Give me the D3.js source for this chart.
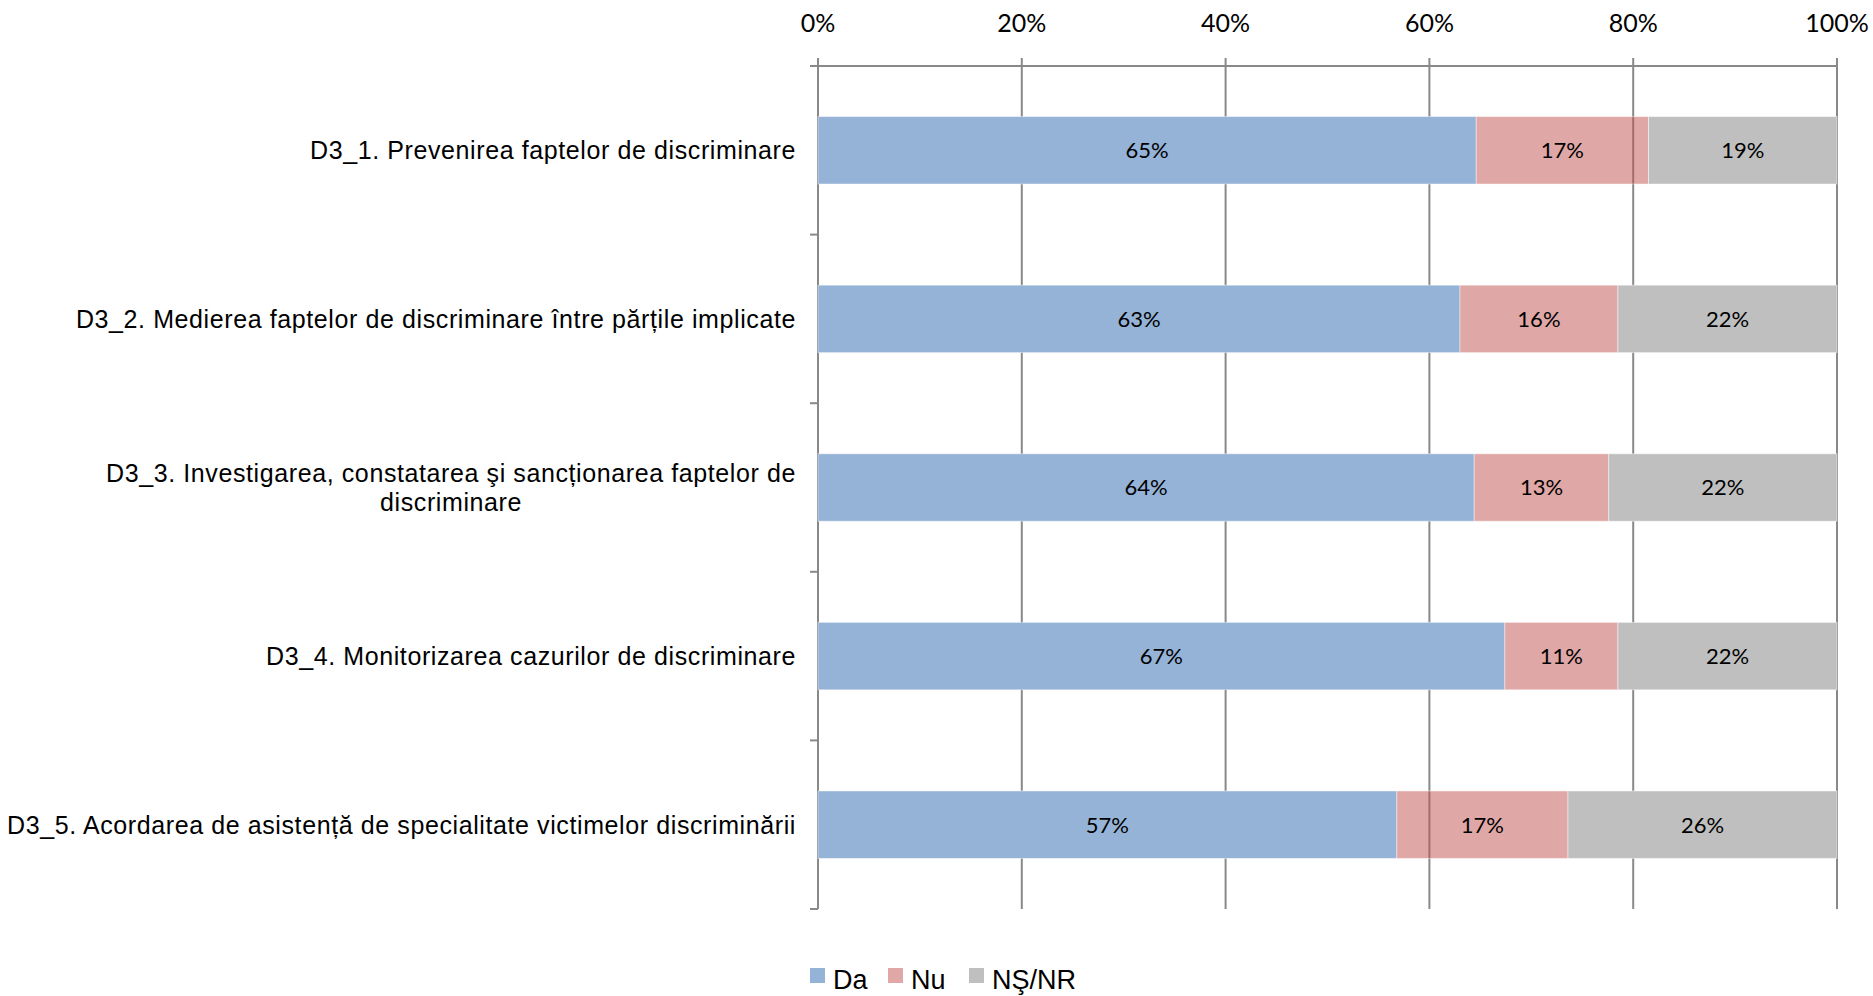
<!DOCTYPE html>
<html>
<head>
<meta charset="utf-8">
<script src="https://cdn.jsdelivr.net/npm/d3@7"></script>
<style>
  body { margin: 0; background: #fff; }
  .grid line { stroke: #898989; stroke-width: 2px; }
  .cat_label { font-family: "Liberation Sans", Arial, sans-serif; font-size: 25px; letter-spacing: 0.6px; fill: #000; }
  .tick_label { font-family: Lato, "Open Sans", sans-serif; font-size: 25px; fill: #000; }
  .value_label { font-family: Lato, "Open Sans", sans-serif; font-size: 22px; fill: #000; }
  .legend_text { font-family: "Liberation Sans", Arial, sans-serif; font-size: 27px; fill: #000; }
</style>
</head>
<body>
<div id="barchart"></div>
<script>
// chart values
var categories = [
  "D3_1. Prevenirea faptelor de discriminare",
  "D3_2. Medierea faptelor de discriminare între părțile implicate",
  "D3_3. Investigarea, constatarea şi sancționarea faptelor de\ndiscriminare",
  "D3_4. Monitorizarea cazurilor de discriminare",
  "D3_5. Acordarea de asistență de specialitate victimelor discriminării"
];
var seriesNames = ["Da", "Nu", "NŞ/NR"];
var daValues = [64.6, 63.0, 64.4, 67.4, 56.8];
var nuValues = [16.9, 15.5, 13.2, 11.1, 16.8];
var nsValues = [18.5, 21.5, 22.4, 21.5, 26.4];
var tickValues = [0, 20, 40, 60, 80, 100];

var width = 1873, height = 996;
var colors = {"Da": "#95B3D7", "Nu": "#C0504D", "NŞ/NR": "#BFBFBF"};
var opacities = {"Da": 1, "Nu": 0.5, "NŞ/NR": 1};

var rows = categories.map(function(c, i){
    return {cat: c, "Da": daValues[i], "Nu": nuValues[i], "NŞ/NR": nsValues[i]};
});

var svg = d3.select("#barchart")
            .append("svg")
            .attr("width", width)
            .attr("height", height);

var x = d3.scaleLinear()
          .domain([0, 100])
          .range([818, 1837]);

var y = d3.scaleBand()
          .domain(categories)
          .range([66, 909])
          .paddingInner(0.6)
          .paddingOuter(0.3);

var stack = d3.stack()
              .keys(seriesNames)
              .offset(d3.stackOffsetExpand);
var series = stack(rows);

//gridlines + value axis ticks (up 8px over the top axis line)
svg.append("g")
   .attr("class", "grid")
   .selectAll("line")
   .data(tickValues)
   .enter()
   .append("line")
   .attr("x1", function(d){ return x(d); })
   .attr("x2", function(d){ return x(d); })
   .attr("y1", y.range()[0] - 8)
   .attr("y2", y.range()[1]);

//top value axis line
svg.append("g")
   .attr("class", "grid")
   .append("line")
   .attr("x1", x(0) - 8)
   .attr("x2", x(100))
   .attr("y1", y.range()[0])
   .attr("y2", y.range()[0]);

//category ticks on the left axis
var step = y.step();
var boundaries = d3.range(categories.length + 1).map(function(i){ return y.range()[0] + i * step; });
svg.append("g")
   .attr("class", "grid")
   .selectAll("line")
   .data(boundaries)
   .enter()
   .append("line")
   .attr("x1", x(0) - 8)
   .attr("x2", x(0))
   .attr("y1", function(d){ return d; })
   .attr("y2", function(d){ return d; });

//tick labels on top
svg.append("g")
   .selectAll("text")
   .data(tickValues)
   .enter()
   .append("text")
   .attr("class", "tick_label")
   .attr("x", function(d){ return x(d); })
   .attr("y", 32)
   .attr("text-anchor", "middle")
   .text(function(d){ return d + "%"; });

//stacked bars
var layers = svg.append("g")
   .attr("class", "bars")
   .selectAll("g")
   .data(series)
   .enter()
   .append("g")
   .attr("fill", function(d){ return colors[d.key]; })
   .attr("fill-opacity", function(d){ return opacities[d.key]; });

layers.selectAll("rect")
   .data(function(d){ return d; })
   .enter()
   .append("rect")
   .attr("x", function(d){ return x(d[0] * 100); })
   .attr("width", function(d){ return x(d[1] * 100) - x(d[0] * 100); })
   .attr("y", function(d){ return y(d.data.cat); })
   .attr("height", y.bandwidth())
   .attr("stroke", "#ffffff")
   .attr("stroke-opacity", 0.45)
   .attr("stroke-width", 1);

//value labels, centred in each segment
svg.append("g")
   .selectAll("g")
   .data(series)
   .enter()
   .append("g")
   .selectAll("text")
   .data(function(s){ return s.map(function(d){ return {key: s.key, d: d}; }); })
   .enter()
   .append("text")
   .attr("class", "value_label")
   .attr("x", function(o){ return (x(o.d[0] * 100) + x(o.d[1] * 100)) / 2; })
   .attr("y", function(o){ return y(o.d.data.cat) + y.bandwidth() / 2; })
   .attr("dy", "0.36em")
   .attr("text-anchor", "middle")
   .text(function(o){ return Math.round(o.d.data[o.key]) + "%"; });

//category labels (right aligned, wrapped ones centred under their first line)
var labelRight = 796;
var catLabels = svg.append("g");
categories.forEach(function(c){
    var lines = c.split("\n");
    var cy = y(c) + y.bandwidth() / 2;
    var lineH = 29;
    var first = catLabels.append("text")
        .attr("class", "cat_label")
        .attr("x", labelRight)
        .attr("y", cy - (lines.length - 1) * lineH / 2)
        .attr("dy", "0.36em")
        .attr("text-anchor", "end")
        .text(lines[0]);
    if (lines.length > 1){
        var w = first.node().getComputedTextLength();
        var mid = labelRight - w / 2;
        first.attr("x", mid).attr("text-anchor", "middle");
        for (var i = 1; i < lines.length; i++){
            catLabels.append("text")
                .attr("class", "cat_label")
                .attr("x", mid)
                .attr("y", cy - (lines.length - 1) * lineH / 2 + i * lineH)
                .attr("dy", "0.36em")
                .attr("text-anchor", "middle")
                .text(lines[i]);
        }
    }
});

//legend
var legendX = [810, 888, 969];
var legend = svg.append("g")
   .selectAll("g")
   .data(seriesNames)
   .enter()
   .append("g")
   .attr("transform", function(d, i){ return "translate(" + legendX[i] + ",968)"; });

legend.append("rect")
   .attr("width", 15)
   .attr("height", 15)
   .attr("fill", function(d){ return colors[d]; })
   .attr("fill-opacity", function(d){ return opacities[d]; });

legend.append("text")
   .attr("class", "legend_text")
   .attr("x", 23)
   .attr("y", 21)
   .text(function(d){ return d; });
</script>
</body>
</html>
